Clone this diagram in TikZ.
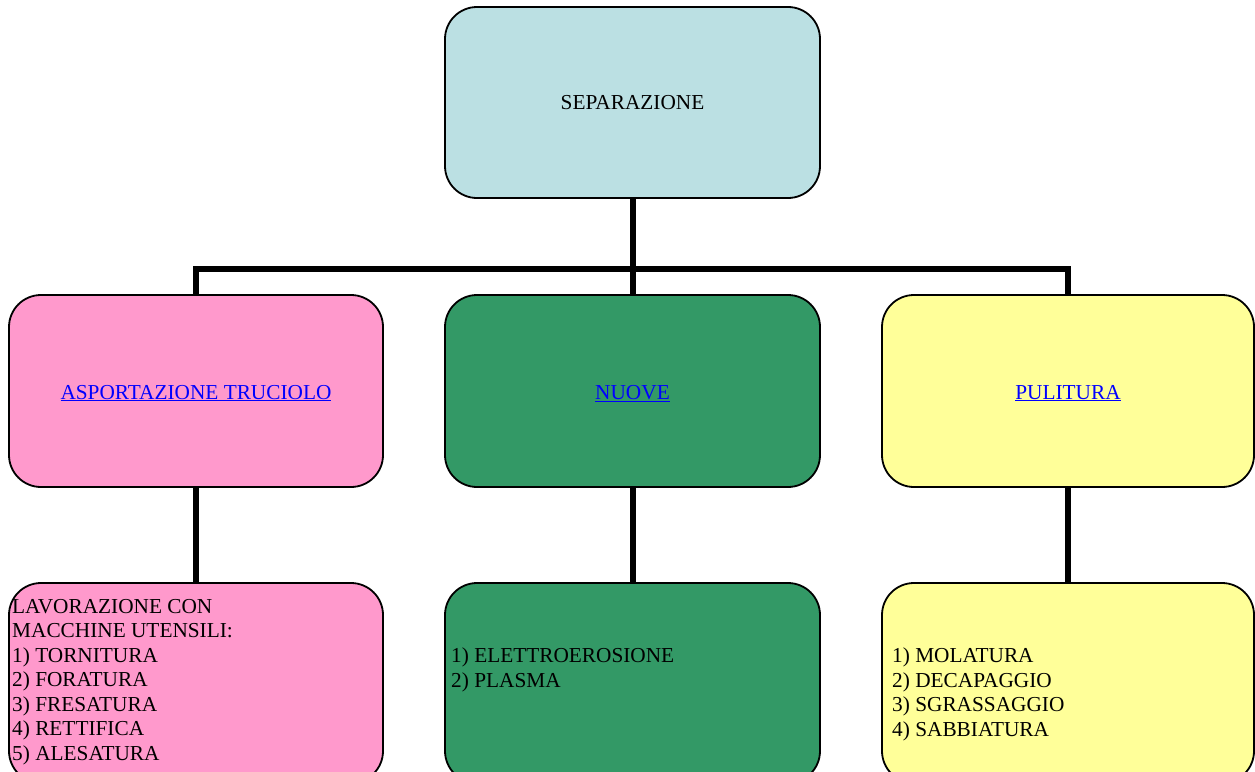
\documentclass[tikz,border=0pt]{standalone}
\usepackage{fontspec}
\setmainfont{Liberation Serif}
\definecolor{topblue}{HTML}{BBE0E3}
\definecolor{pinkbox}{HTML}{FF99CC}
\definecolor{greenbox}{HTML}{339966}
\definecolor{yellowbox}{HTML}{FFFF99}
\definecolor{linkblue}{HTML}{0000FF}
\newcommand{\lnk}[1]{\raisebox{-8pt}[0pt][0pt]{\textcolor{linkblue}{\underline{#1}}}}
\tikzset{
  box/.style={draw=black, line width=1.8pt, rounded corners=32pt, inner sep=0pt, font=\fontsize{21.3}{24.5}\selectfont},
  conn/.style={draw=black, line width=6pt, line join=miter},
  txt/.style={anchor=north west, inner sep=0pt, align=left, font=\fontsize{21.3}{24.5}\selectfont}
}
\begin{document}
\begin{tikzpicture}[x=1pt,y=-1pt]
\useasboundingbox (0,0) rectangle (1255,771);
\clip (0,0) rectangle (1255,771);
% top
\node[box, fill=topblue, minimum width=375pt, minimum height=191pt] (sep) at (632.5,102.5) {SEPARAZIONE};
% middle row
\node[box, fill=pinkbox, minimum width=374pt, minimum height=192pt] (asp) at (196,391) {\lnk{ASPORTAZIONE TRUCIOLO}};
\node[box, fill=greenbox, minimum width=375pt, minimum height=192pt] (nuo) at (632.5,391) {\lnk{NUOVE}};
\node[box, fill=yellowbox, minimum width=372pt, minimum height=192pt] (pul) at (1068,391) {\lnk{PULITURA}};
% bottom row
\node[box, fill=pinkbox, minimum width=374pt, minimum height=200pt] (lav) at (196,683) {};
\node[box, fill=greenbox, minimum width=375pt, minimum height=200pt] (ele) at (632.5,683) {};
\node[box, fill=yellowbox, minimum width=372pt, minimum height=200pt] (mol) at (1068,683) {};
% texts
\node[txt] (lavt) at (12,599) {LAVORAZIONE CON\\MACCHINE UTENSILI:\\1) TORNITURA\\2) FORATURA\\3) FRESATURA\\4) RETTIFICA\\5) ALESATURA};
\node[txt] (elet) at (451,648) {1) ELETTROEROSIONE\\2) PLASMA};
\node[txt] (molt) at (892,648) {1) MOLATURA\\2) DECAPAGGIO\\3) SGRASSAGGIO\\4) SABBIATURA};
% connectors
\draw[conn] (sep.south) -- (nuo.north);
\draw[conn] (asp.north) -- ++(0,-25) -| (pul.north);
\draw[conn] (asp.south) -- (lav.north);
\draw[conn] (nuo.south) -- (ele.north);
\draw[conn] (pul.south) -- (mol.north);
\end{tikzpicture}
\end{document}
